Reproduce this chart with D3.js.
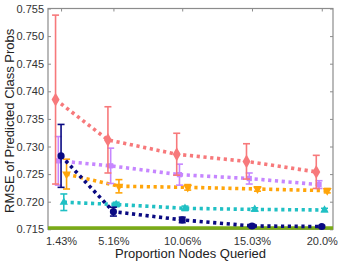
<!DOCTYPE html>
<html><head><meta charset="utf-8">
<script src="https://cdn.jsdelivr.net/npm/d3@7"></script>
<style>body{margin:0;background:#fff}svg{display:block}text{font-family:"Liberation Sans",Arial,sans-serif}</style>
</head><body><svg id="c" width="340" height="264"></svg>
<script>
const xValues = [1.43, 5.16, 10.06, 15.03, 20.0];
const xTickLabels = ["1.43%", "5.16%", "10.06%", "15.03%", "20.0%"];
const yTicks = [0.715, 0.720, 0.725, 0.730, 0.735, 0.740, 0.745, 0.750, 0.755];
const redMean = [0.7385, 0.7312, 0.7286, 0.7273, 0.7254];
const redErr = [0.0153, 0.0060, 0.0038, 0.0032, 0.0030];
const purpleMean = [0.7274, 0.7265, 0.7249, 0.7242, 0.7231];
const purpleErr = [0.0044, 0.0032, 0.0019, 0.0010, 0.0007];
const orangeMean = [0.7250, 0.7228, 0.7226, 0.7223, 0.7220];
const orangeErr = [0.0027, 0.0012, 0.0005, 0.0004, 0.0004];
const cyanMean = [0.7199, 0.7195, 0.7188, 0.7186, 0.7185];
const cyanErr = [0.0015, 0.0004, 0.0004, 0.0003, 0.0003];
const navyMean = [0.7283, 0.7182, 0.7167, 0.7156, 0.7155];
const navyErr = [0.0057, 0.0008, 0.0005, 0.0003, 0.0002];
const baseline = [0.7150];

const svg = d3.select("#c");
const L = 48, R = 333, T = 8.5, B = 229.3;
const x = d3.scaleLinear().domain([0.5, 20.8]).range([L, R]);
const y = d3.scaleLinear().domain([0.715, 0.755]).range([B, T]);
const frame = "#8c8c8c";

// ticks inward, all four sides
const gAxes = svg.append("g");
gAxes.append("g").attr("transform", `translate(${L},0)`)
  .call(d3.axisRight(y).tickValues(yTicks).tickSize(3).tickFormat(""));
gAxes.append("g").attr("transform", `translate(${R},0)`)
  .call(d3.axisLeft(y).tickValues(yTicks).tickSize(3).tickFormat(""));
gAxes.append("g").attr("transform", `translate(0,${T})`)
  .call(d3.axisBottom(x).tickValues(xValues).tickSize(3).tickFormat(""));
gAxes.selectAll(".domain").remove();
gAxes.selectAll("line").attr("stroke", frame);

svg.append("rect").attr("x", L).attr("y", T).attr("width", R - L).attr("height", B - T)
  .attr("fill", "none").attr("stroke", frame).attr("stroke-width", 1.2);

// tick labels
const yl = svg.append("g").attr("transform", `translate(${L - 4},0)`)
  .call(d3.axisLeft(y).tickValues(yTicks).tickSize(0).tickFormat(d3.format(".3f")));
yl.select(".domain").remove();
yl.selectAll("text").attr("font-size", 11).attr("fill", "#333").attr("x", 0)
  .attr("font-family", '"Liberation Sans",Arial,sans-serif');

const xl = svg.append("g").attr("transform", `translate(0,${B + 5})`)
  .call(d3.axisBottom(x).tickValues(xValues).tickSize(0).tickFormat((d, i) => xTickLabels[i]));
xl.select(".domain").remove();
xl.selectAll("text").attr("font-size", 11).attr("fill", "#333")
  .attr("font-family", '"Liberation Sans",Arial,sans-serif');

svg.append("text").attr("x", (L + R) / 2).attr("y", 258).attr("text-anchor", "middle")
  .attr("font-size", 13).attr("fill", "#222").text("Proportion Nodes Queried");
svg.append("text").attr("transform", `translate(14,${(T + B) / 2 + 2}) rotate(-90)`)
  .attr("text-anchor", "middle").attr("font-size", 13).attr("fill", "#222")
  .text("RMSE of Predicted Class Probs");

// baseline (green)
svg.append("line").attr("x1", L).attr("x2", R)
  .attr("y1", y(baseline[0]) - 1.2).attr("y2", y(baseline[0]) - 1.2)
  .attr("stroke", "#7aab17").attr("stroke-width", 3.5);

const series = [
  {mean: cyanMean, err: cyanErr, color: "#20c0c4", off: 2.75, sym: d3.symbolTriangle, size: 30, rot: 0},
  {mean: orangeMean, err: orangeErr, color: "#ffa50a", off: 5.5, sym: d3.symbolTriangle, size: 34, rot: 180},
  {mean: purpleMean, err: purpleErr, color: "#c686ff", off: -2.75, sym: d3.symbolSquare, size: 28, rot: 0},
  {mean: redMean, err: redErr, color: "#f7797b", off: -5.5, sym: d3.symbolDiamond, size: 55, rot: 0},
  {mean: navyMean, err: navyErr, color: "#0a0a82", off: 0, sym: d3.symbolCircle, size: 40, rot: 0}
];

const line = d3.line();
series.forEach(s => {
  const pts = xValues.map((xv, i) => [x(xv) + s.off, y(s.mean[i])]);
  const g = svg.append("g");
  g.append("path").attr("d", line(pts)).attr("fill", "none").attr("stroke", s.color)
    .attr("stroke-width", 3.6).attr("stroke-dasharray", "3.2,3.6");
  xValues.forEach((xv, i) => {
    const cx = x(xv) + s.off;
    const y1 = y(s.mean[i] + s.err[i]), y2 = y(s.mean[i] - s.err[i]);
    g.append("line").attr("x1", cx).attr("x2", cx).attr("y1", y1).attr("y2", y2)
      .attr("stroke", s.color).attr("stroke-width", 1.6);
    [y1, y2].forEach(yy => g.append("line").attr("x1", cx - 3.5).attr("x2", cx + 3.5)
      .attr("y1", yy).attr("y2", yy).attr("stroke", s.color).attr("stroke-width", 1.6));
    g.append("path").attr("d", d3.symbol().type(s.sym).size(s.size)())
      .attr("transform", `translate(${cx},${y(s.mean[i])}) rotate(${s.rot})`)
      .attr("fill", s.color);
  });
});
</script></body></html>
